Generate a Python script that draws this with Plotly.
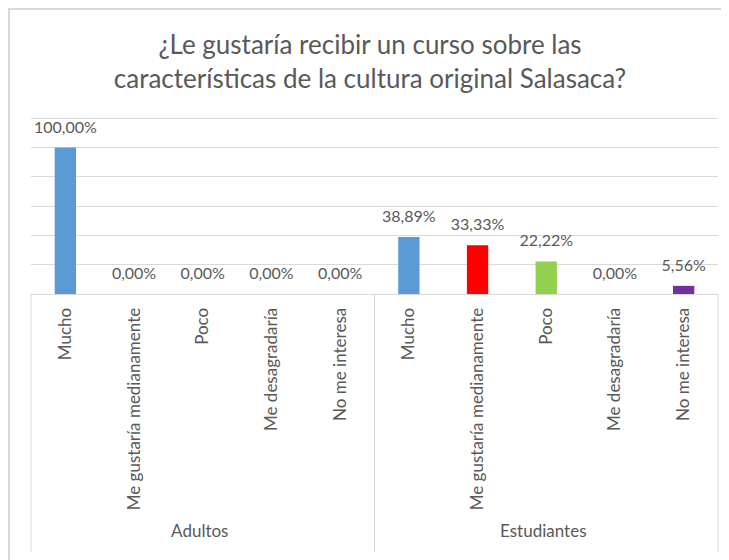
import plotly.graph_objects as go

groups = ["Adultos", "Estudiantes"]
categories = ["Mucho", "Me gustaría medianamente", "Poco", "Me desagradaría", "No me interesa"]
adultos = [100.00, 0.00, 0.00, 0.00, 0.00]
estudiantes = [38.89, 33.33, 22.22, 0.00, 5.56]
cat_colors = ["#5B9BD5", "#FF0000", "#92D050", "#ED7D31", "#7030A0"]

title_text = "¿Le gustaría recibir un curso sobre las<br>características de la cultura original Salasaca?"

xg = [g for g in groups for _ in categories]
xc = categories * len(groups)
vals = adultos + estudiantes
colors = cat_colors * len(groups)
labels = [f"{v:.2f}".replace(".", ",") + "%" for v in vals]

FONT = "Lato, Carlito, Calibri, sans-serif"
GRAY = "#595959"
LINE = "#D9D9D9"

W, H = 721, 552
L, R, T, B = 23, 11, 108, 266
ph = H - T - B
pw = W - L - R

fig = go.Figure()
fig.add_trace(go.Bar(
    x=[xg, xc], y=vals, marker=dict(color=colors, line=dict(width=0)),
    showlegend=False, hoverinfo="y",
))
fig.add_trace(go.Scatter(
    x=[xg, xc], y=vals, mode="markers+text", text=labels, textposition="top center",
    marker=dict(size=16, color="rgba(0,0,0,0)"), cliponaxis=False,
    textfont=dict(family=FONT, size=16, color=GRAY),
    showlegend=False, hoverinfo="skip",
))

shapes = [dict(type="rect", xref="paper", yref="paper",
               x0=(1 - L) / pw, x1=1.1, y0=-2.0, y1=1 + (T - 1) / ph,
               line=dict(color=LINE, width=2), fillcolor="rgba(0,0,0,0)", layer="below")]
for xp in (0, 0.5, 1):
    shapes.append(dict(type="line", xref="paper", yref="paper", x0=xp, x1=xp,
                       y0=0, y1=-(H - 8 - (H - B)) / ph,
                       line=dict(color=LINE, width=1), layer="below"))

fig.update_layout(
    width=W, height=H,
    margin=dict(l=L, r=R, t=T, b=B),
    paper_bgcolor="white", plot_bgcolor="white",
    bargap=0.69,
    title=dict(text=title_text, x=362 / W, xanchor="center", xref="container",
               y=1 - 46 / H, yanchor="middle", yref="container",
               font=dict(family=FONT, size=26, color=GRAY)),
    font=dict(family=FONT, color=GRAY),
    xaxis=dict(type="multicategory", tickangle=-90, showline=True, linecolor=LINE,
               linewidth=1, showdividers=False, ticklabelstandoff=6,
               range=[-0.5, len(vals) - 0.5], autorange=False,
               ticks="", tickfont=dict(family=FONT, size=17, color=GRAY),
               showgrid=False),
    yaxis=dict(range=[0, 121.6], tickvals=[0, 20, 40, 60, 80, 100, 120],
               showticklabels=False, gridcolor=LINE,
               gridwidth=1, zeroline=False, showline=False, ticks=""),
    shapes=shapes,
)

fig.write_html("out.html")
